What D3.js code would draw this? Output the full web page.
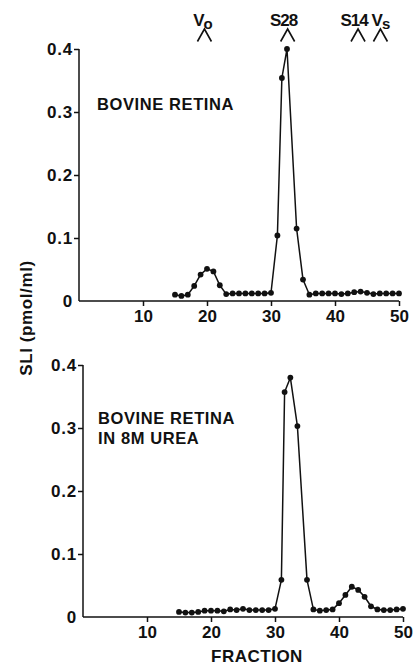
<!DOCTYPE html>
<html>
<head>
<meta charset="utf-8">
<script src="https://cdn.jsdelivr.net/npm/d3@7"></script>
<style>
  html, body { margin: 0; padding: 0; background: #fff; }
  svg text { font-family: "Liberation Sans", Arial, Helvetica, sans-serif; font-weight: bold; fill: #111; }
</style>
</head>
<body>
<svg id="chart" width="415" height="665"></svg>
<script>
// ---------- data ----------
const fractionsTop = [15,16,17,18,19,20,21,22,23,24,25,26,27,28,29,30,31,31.7,32.5,34,35,36,37,38,39,40,41,42,43,44,45,46,47,48,49,50];
const sliTop       = [0.010,0.008,0.010,0.024,0.042,0.051,0.047,0.025,0.011,0.012,0.012,0.012,0.012,0.012,0.012,0.013,0.104,0.354,0.400,0.115,0.034,0.010,0.012,0.012,0.012,0.012,0.011,0.012,0.014,0.015,0.013,0.011,0.012,0.012,0.012,0.012];

const fractionsBottom = [15,16,17,18,19,20,21,22,23,24,25,26,27,28,29,30,31,31.5,32.4,33.5,35,36,37,38,39,40,41,42,43,44,45,46,47,48,49,50];
const sliBottom       = [0.008,0.007,0.007,0.008,0.010,0.010,0.010,0.009,0.012,0.011,0.013,0.011,0.011,0.011,0.011,0.013,0.059,0.357,0.380,0.303,0.059,0.012,0.010,0.011,0.012,0.022,0.035,0.048,0.043,0.032,0.017,0.012,0.011,0.011,0.012,0.013];

const xTicks = [10,20,30,40,50];
const yTicks = [0,0.1,0.2,0.3,0.4];
const markerLabels = ["Vo","S28","S14","Vs"];
const markerFractions = [19.6,32.6,43.6,47.1];

const topLabel = ["BOVINE RETINA"];
const bottomLabel = ["BOVINE RETINA","IN 8M UREA"];
const xTitle = "FRACTION";
const yTitle = "SLI (pmol/ml)";

// ---------- drawing ----------
const svg = d3.select("#chart");

function panel(xRange, yRange, fr, vals, labels, labelPos) {
  const x = d3.scaleLinear().domain([0,50]).range(xRange);
  const y = d3.scaleLinear().domain([0,0.4]).range(yRange);
  const g = svg.append("g");

  const xAxis = d3.axisBottom(x).tickValues(xTicks).tickSize(5).tickPadding(4).tickSizeOuter(0);
  const gx = g.append("g").attr("transform", `translate(0,${yRange[0]})`).call(xAxis);
  gx.select(".domain").attr("d", `M${xRange[0]},0H${xRange[1]}`);
  const yAxis = d3.axisLeft(y).tickValues(yTicks).tickSize(5).tickPadding(1).tickSizeOuter(0)
    .tickFormat(d => d === 0 ? "0" : d3.format(".1f")(d));
  const gy = g.append("g").attr("transform", `translate(${xRange[0]},0)`).call(yAxis);
  gy.select(".domain").attr("d", `M0,${yRange[0]}V${yRange[1]}`);

  [gx, gy].forEach(a => {
    a.selectAll(".domain, .tick line").attr("stroke", "#111").attr("stroke-width", 1.5);
  });
  gx.selectAll("text").style("font-size", "17px").attr("letter-spacing", "0px").attr("fill", "#111");
  gy.selectAll("text").style("font-size", "17px").attr("letter-spacing", "0.8px").attr("fill", "#111");
  gy.selectAll(".tick").filter(d => d === 0).select("line").remove();

  const line = d3.line().x((d,i) => x(fr[i])).y(d => y(d));
  g.append("path").datum(vals).attr("d", line)
    .attr("fill", "none").attr("stroke", "#111").attr("stroke-width", 1.5);
  g.selectAll("circle").data(vals).join("circle")
    .attr("cx", (d,i) => x(fr[i])).attr("cy", d => y(d)).attr("r", 2.9).attr("fill", "#111");

  labels.forEach((t, i) => {
    g.append("text").attr("x", labelPos[0]).attr("y", labelPos[1] + i * 20)
      .style("font-size", "16.5px").attr("letter-spacing", "0.6px").text(t);
  });
  return {x, y};
}

const topPanel = panel([79,399], [301,49], fractionsTop, sliTop, topLabel, [97,110]);
const bottomPanel = panel([83,403], [617,365], fractionsBottom, sliBottom, bottomLabel, [98,424]);

// column markers above top panel
const labelShift = [-2, -4, -4, 0];
const mk = svg.append("g");
markerFractions.forEach((f, i) => {
  const cx = topPanel.x(f);
  mk.append("path").attr("d", `M${cx-7},41.5L${cx},29L${cx+7},41.5`)
    .attr("fill", "none").attr("stroke", "#111").attr("stroke-width", 1.6);
  const lab = markerLabels[i];
  const t = mk.append("text").attr("x", cx + labelShift[i]).attr("y", 26).attr("text-anchor", "middle")
    .style("font-size", "17px").attr("letter-spacing", "-1px");
  if (lab.startsWith("V")) {
    t.append("tspan").text("V");
    t.append("tspan").attr("dy", 2.5).style("font-size", "15px").text(lab.slice(1));
  } else {
    t.text(lab);
  }
});

// axis titles
svg.append("text").attr("x", 257).attr("y", 662).attr("text-anchor", "middle")
  .style("font-size", "17px").attr("letter-spacing", "0.5px").text(xTitle);
svg.append("text").attr("transform", "translate(32,318) rotate(-90)").attr("text-anchor", "middle")
  .style("font-size", "17px").attr("letter-spacing", "0.6px").text(yTitle);
</script>
</body>
</html>
